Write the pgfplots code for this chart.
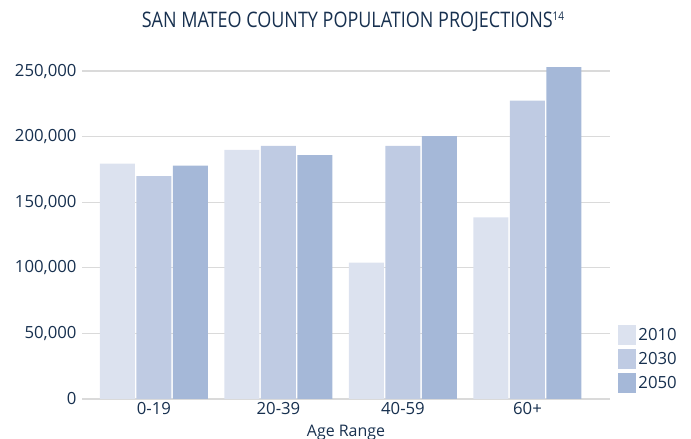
\documentclass[border=0pt]{standalone}
\usepackage{pgfplots}
\pgfplotsset{compat=1.18}
\usepackage{fontspec}
\setmainfont{Open Sans}
\definecolor{txt}{HTML}{17304F}
\definecolor{cA}{HTML}{DCE2EF}
\definecolor{cB}{HTML}{BFCBE3}
\definecolor{cC}{HTML}{A5B8D8}
\definecolor{gridc}{HTML}{DADADA}

\begin{document}
\begin{tikzpicture}[x=1bp,y=1bp]
\useasboundingbox (0,0) rectangle (691,439);
\node[text=txt, font=\fontsize{21.5}{21.5}\selectfont] at (353,417)
  {\scalebox{0.84}[1]{SAN MATEO COUNTY POPULATION PROJECTIONS{\fontsize{12}{12}\selectfont\raisebox{7bp}{14}}}};
\begin{axis}[
  at={(82bp,40bp)}, anchor=south west, scale only axis,
  width=528bp, height=341bp,
  xmin=-0.578, xmax=3.663, ymin=0, ymax=260000,
  ybar=1.5bp, bar width=35bp,
  axis x line*=bottom, axis y line*=left,
  y axis line style={draw=none},
  x axis line style={gridc, line width=1.5bp, -},
  major tick length=0pt,
  ytick={0,50000,100000,150000,200000,250000},
  ymajorgrids, grid style={gridc, line width=1.3bp},
  xtick={0,1,2,3}, xticklabels={0-19,20-39,40-59,60+},
  /pgf/number format/assume math mode=true,
  /pgf/number format/fixed, /pgf/number format/1000 sep={,},
  scaled y ticks=false,
  tick label style={text=txt, font=\fontsize{16.8}{16.8}\selectfont},
  yticklabel style={xshift=-2bp},
  xlabel={Age Range},
  xlabel style={text=txt, font=\fontsize{16}{16}\selectfont, yshift=-3bp},
  legend style={at={(1.01,0.01)}, anchor=south west, draw=none, fill=none,
    font=\fontsize{16.8}{16.8}\selectfont, text=txt, row sep=4bp},
  legend cell align=left,
  legend image code/.code={\fill[#1] (0bp,-10bp) rectangle (18bp,10bp);},
]
\addplot[draw=none, fill=cA] coordinates {(0,179500) (1,190000) (2,104000) (3,138500)};
\addlegendentry{2010}
\addplot[draw=none, fill=cB] coordinates {(0,170000) (1,193000) (2,193000) (3,227500)};
\addlegendentry{2030}
\addplot[draw=none, fill=cC] coordinates {(0,178000) (1,186000) (2,200500) (3,253000)};
\addlegendentry{2050}
\end{axis}
\end{tikzpicture}
\end{document}
